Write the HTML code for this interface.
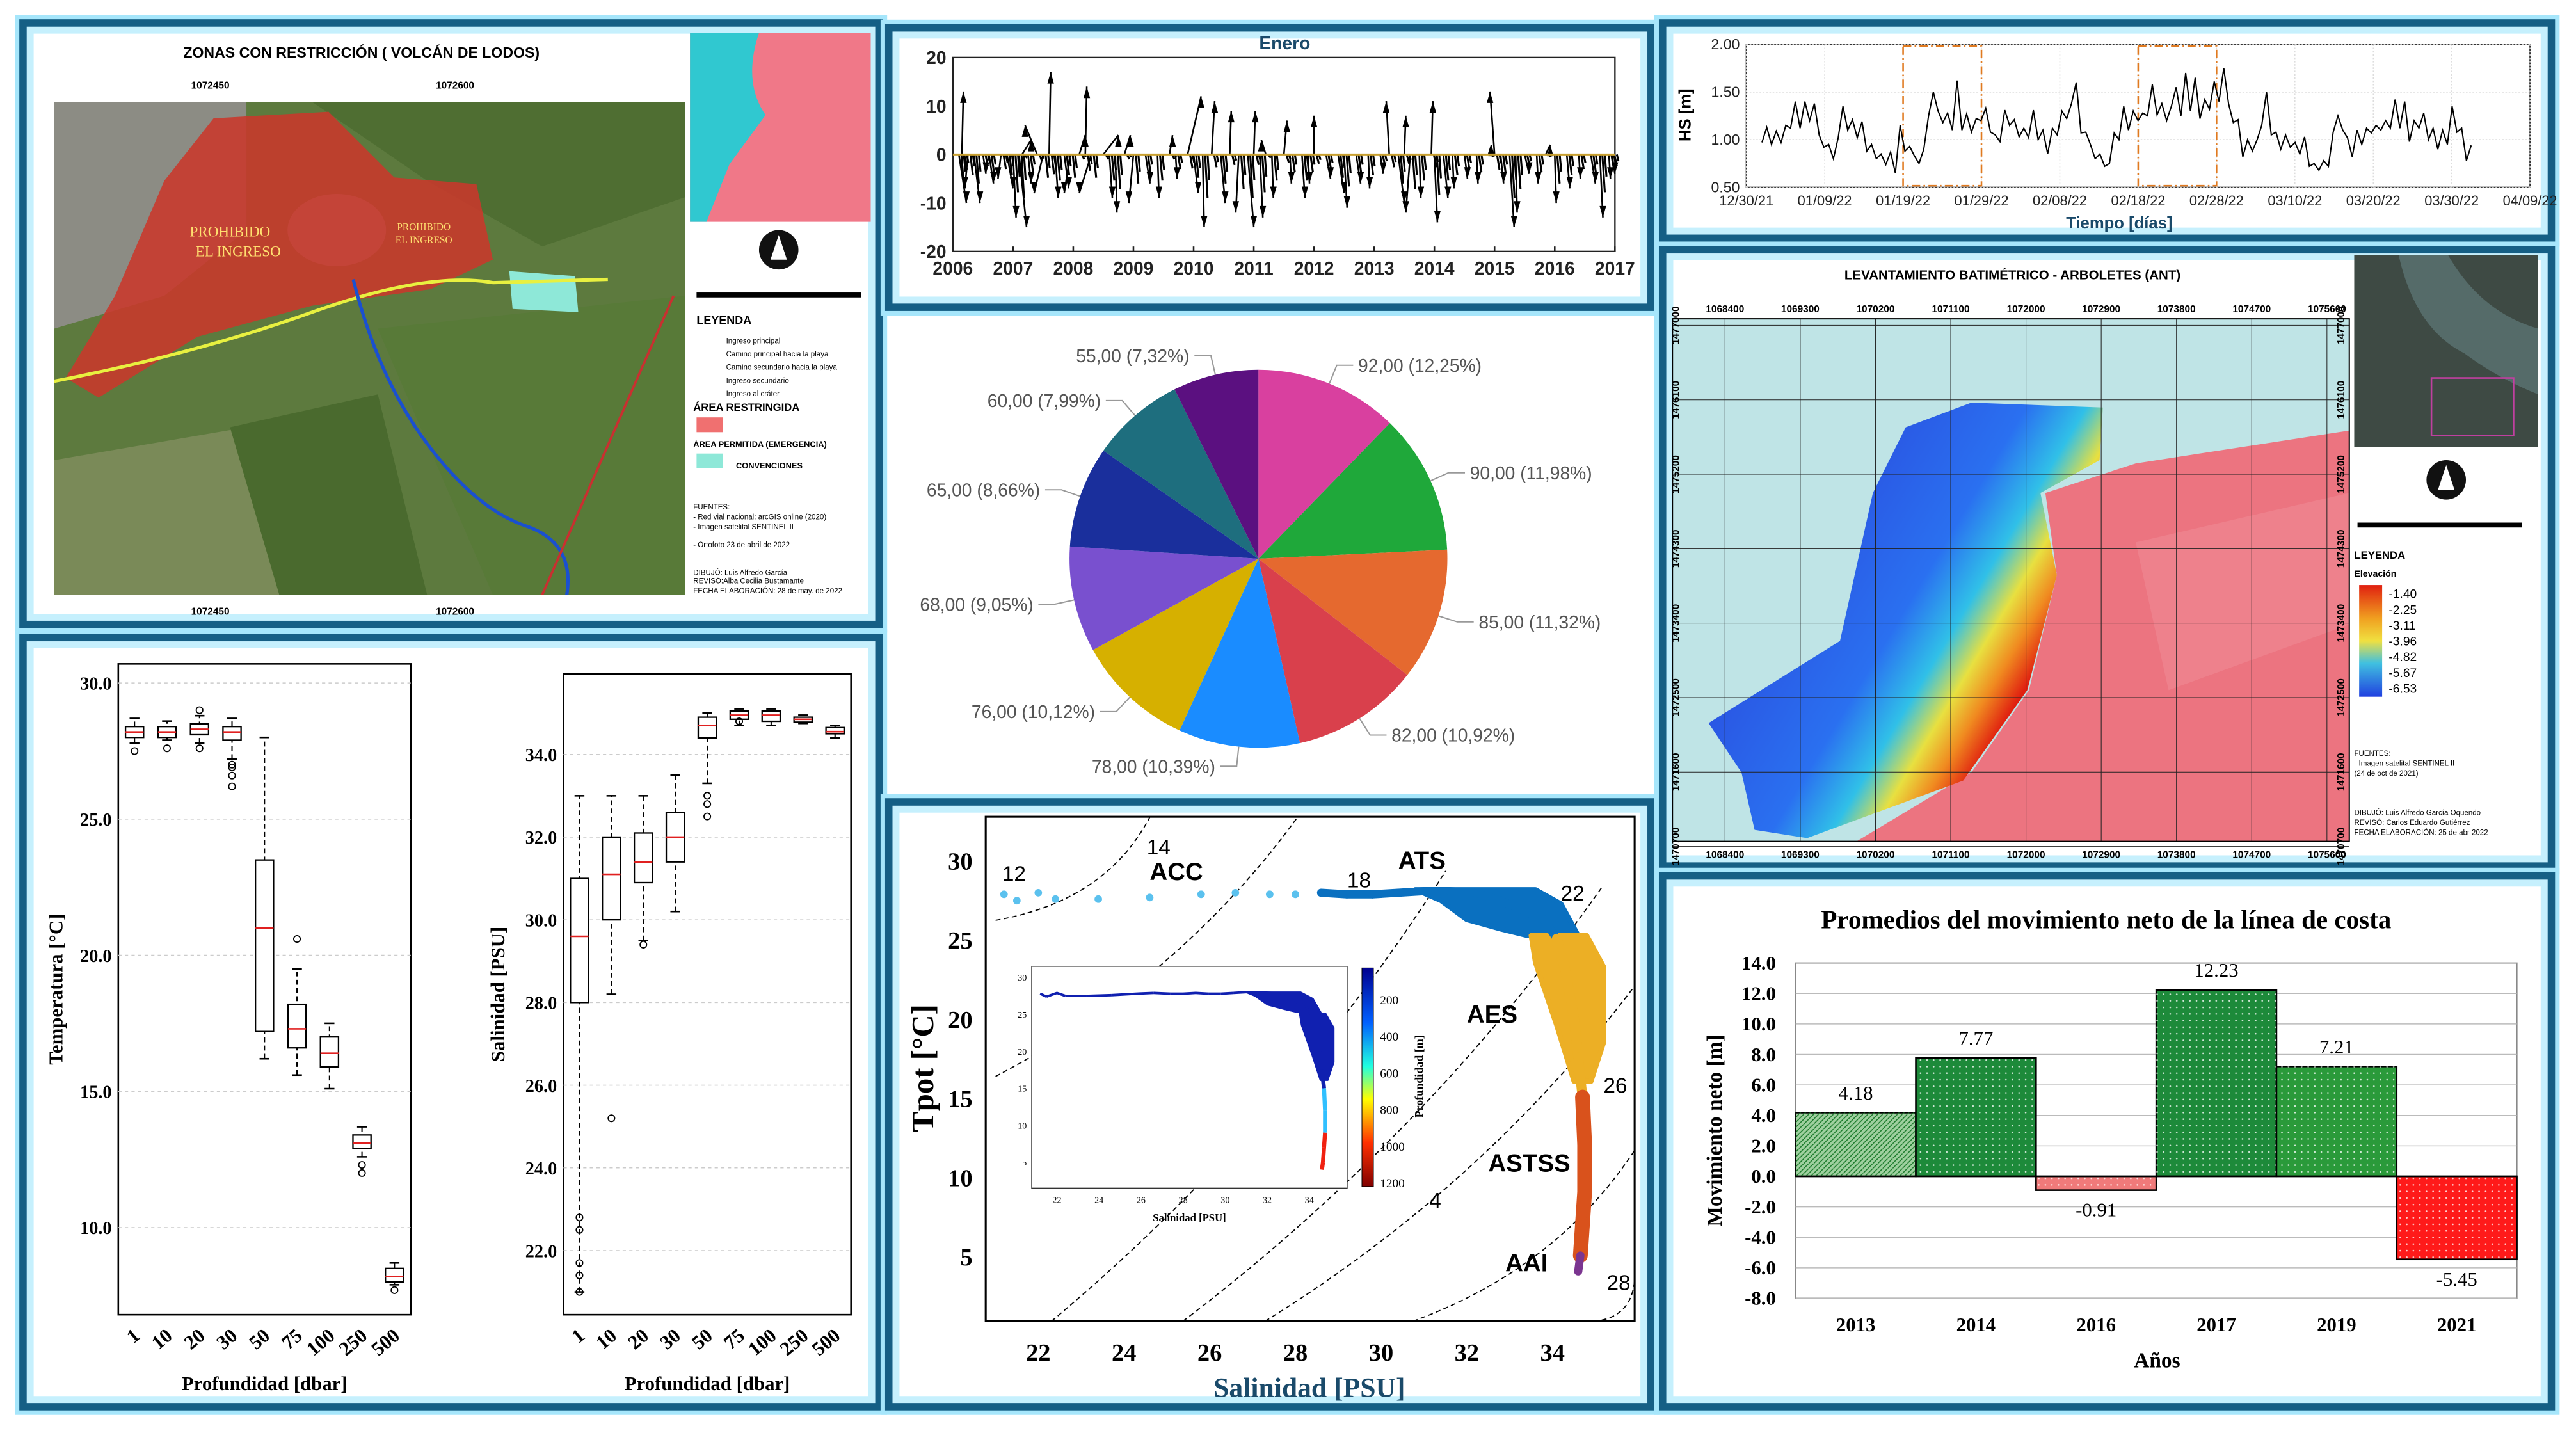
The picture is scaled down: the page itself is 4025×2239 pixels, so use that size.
<!DOCTYPE html>
<html><head><meta charset="utf-8"><style>
html,body{margin:0;padding:0;background:#fff}
svg{display:block}
text{font-family:"Liberation Sans",sans-serif}
.serif{font-family:"Liberation Serif",serif}
</style></head><body>
<svg id="s" xmlns="http://www.w3.org/2000/svg" width="4025" height="2239" viewBox="0 0 1568 872" preserveAspectRatio="none">
<defs>
<linearGradient id="bathy" gradientUnits="userSpaceOnUse" x1="1100" y1="300" x2="1250" y2="390"><stop offset="0" stop-color="#2a50e0"/><stop offset=".5" stop-color="#2a70f0"/><stop offset=".68" stop-color="#30c0e8"/><stop offset=".8" stop-color="#e8e040"/><stop offset=".9" stop-color="#f08a20"/><stop offset="1" stop-color="#e02010"/></linearGradient>
<linearGradient id="cbar" x1="0" y1="0" x2="0" y2="1"><stop offset="0" stop-color="#00008f"/><stop offset=".25" stop-color="#0060ff"/><stop offset=".45" stop-color="#20ffe0"/><stop offset=".6" stop-color="#ffff00"/><stop offset=".8" stop-color="#ff3000"/><stop offset="1" stop-color="#800000"/></linearGradient>
<linearGradient id="lcb" x1="0" y1="0" x2="0" y2="1"><stop offset="0" stop-color="#e02010"/><stop offset=".3" stop-color="#f0a020"/><stop offset=".5" stop-color="#f0e040"/><stop offset=".7" stop-color="#40c0e0"/><stop offset="1" stop-color="#2040e0"/></linearGradient>
<pattern id="dots" width="4" height="4" patternUnits="userSpaceOnUse"><circle cx="1" cy="1" r=".5" fill="#fff" opacity=".8"/></pattern>
<pattern id="hatch" width="3" height="3" patternUnits="userSpaceOnUse"><path d="M0 3L3 0" stroke="#1a7a2a" stroke-width=".6"/></pattern>
</defs>
<g id="frames"></g>
<g id="map1">
<text x="220" y="35" font-size="9" font-weight="bold" text-anchor="middle">ZONAS CON RESTRICCIÓN ( VOLCÁN DE LODOS)</text>
<rect x="33" y="62" width="384" height="300" fill="#5d7a3e"/>
<path d="M33 62H150V140L100 180L33 200Z" fill="#8c8c84"/>
<path d="M190 62H417V120L330 150L260 110Z" fill="#4f6e32"/>
<path d="M230 200L417 180V362H300Z" fill="#587a38"/>
<path d="M33 280L150 260L200 362H33Z" fill="#7a8a58"/>
<path d="M140 260L230 240L260 362H170Z" fill="#4a6a2e"/>
<ellipse cx="205" cy="140" rx="30" ry="22" fill="#9a9a94"/>
<path d="M40 230L70 180L100 110L130 72L200 68L240 108L290 112L300 158L262 176L190 186L120 205L60 242Z" fill="#c9382b" opacity=".88"/>
<path d="M310 165L350 168L352 190L312 188Z" fill="#8ee8d8"/>
<path d="M33 232Q120 215 190 190T300 172L370 170" stroke="#e8f040" stroke-width="2" fill="none"/>
<path d="M215 170Q230 230 260 270T320 320T345 362" stroke="#1a50d0" stroke-width="2" fill="none"/>
<path d="M330 362L410 180" stroke="#c83030" stroke-width="1.5"/>
<text x="140" y="144" class="serif" font-size="9" fill="#ffe070" text-anchor="middle">PROHIBIDO</text>
<text x="145" y="156" class="serif" font-size="9" fill="#ffe070" text-anchor="middle">EL INGRESO</text>
<text x="258" y="140" class="serif" font-size="6" fill="#ffe070" text-anchor="middle">PROHIBIDO</text>
<text x="258" y="148" class="serif" font-size="6" fill="#ffe070" text-anchor="middle">EL INGRESO</text>
<text x="128" y="54" font-size="6" font-weight="bold" text-anchor="middle">1072450</text>
<text x="277" y="54" font-size="6" font-weight="bold" text-anchor="middle">1072600</text>
<text x="128" y="374" font-size="6" font-weight="bold" text-anchor="middle">1072450</text>
<text x="277" y="374" font-size="6" font-weight="bold" text-anchor="middle">1072600</text>
<rect x="420" y="20" width="110" height="115" fill="#f07888"/>
<path d="M420 20H462Q452 50 466 70L444 100L430 135H420Z" fill="#30c8d0"/>
<circle cx="474" cy="152" r="12" fill="#111"/><path d="M474 143L479 158H469Z" fill="#fff"/>
<rect x="424" y="178" width="100" height="3" fill="#000"/>
<text x="424" y="197" font-size="7" font-weight="bold">LEYENDA</text>
<g font-size="4.5"><text x="442" y="209">Ingreso principal</text><text x="442" y="217">Camino principal hacia la playa</text><text x="442" y="225">Camino secundario hacia la playa</text><text x="442" y="233">Ingreso secundario</text><text x="442" y="241">Ingreso al cráter</text></g>
<text x="422" y="250" font-size="6.5" font-weight="bold">ÁREA RESTRINGIDA</text>
<rect x="424" y="254" width="16" height="9" fill="#f07070"/>
<text x="422" y="272" font-size="5" font-weight="bold">ÁREA PERMITIDA (EMERGENCIA)</text>
<rect x="424" y="276" width="16" height="9" fill="#8ee8d8"/>
<text x="448" y="285" font-size="5" font-weight="bold">CONVENCIONES</text>
<g font-size="4.5"><text x="422" y="310">FUENTES:</text><text x="422" y="316">- Red vial nacional: arcGIS online (2020)</text><text x="422" y="322">- Imagen satelital SENTINEL II</text><text x="422" y="333">- Ortofoto 23 de abril de 2022</text><text x="422" y="350">DIBUJÓ: Luis Alfredo García</text><text x="422" y="355">REVISÓ:Alba Cecilia Bustamante</text><text x="422" y="361">FECHA ELABORACIÓN: 28 de may. de 2022</text></g>
</g>
<g id="vec"></g>
<g id="pie"></g>
<g id="ts"></g>
<g id="hs"></g>
<g id="bathy-map">
<text x="1225" y="170" font-size="8" font-weight="bold" text-anchor="middle">LEVANTAMIENTO BATIMÉTRICO - ARBOLETES (ANT)</text>
<rect x="1018" y="194" width="412" height="318" fill="#bfe4e6"/>
<path d="M1245 300L1300 282L1430 262V512H1130L1200 470L1235 420L1252 350Z" fill="#ec7480"/>
<path d="M1300 330L1430 300V380L1320 420Z" fill="#f08a94" opacity=".6"/>
<path d="M1040 440L1120 390L1140 300L1160 260L1200 245L1280 248L1278 280L1242 300L1252 350L1234 420L1195 475L1100 510L1068 505L1060 470Z" fill="url(#bathy)"/>
<g id="bgrid"></g>
<rect x="1433" y="155" width="112" height="117" fill="#3e4a44"/>
<path d="M1460 155Q1470 200 1500 215Q1520 230 1545 240V200Q1510 190 1490 155Z" fill="#8ab8c0" opacity=".3"/>
<path d="M1480 230H1530V265H1480Z" fill="none" stroke="#c040a0" stroke-width="1"/>
<circle cx="1489" cy="292" r="12" fill="#111"/><path d="M1489 283L1494 298H1484Z" fill="#fff"/>
<rect x="1435" y="318" width="100" height="3" fill="#000"/>
<text x="1433" y="340" font-size="6.5" font-weight="bold">LEYENDA</text>
<text x="1433" y="351" font-size="5.5" font-weight="bold">Elevación</text>
<rect x="1436" y="356" width="14" height="68" fill="url(#lcb)"/>
<g font-size="7" id="lcbt"></g>
<g font-size="4.5"><text x="1433" y="460">FUENTES:</text><text x="1433" y="466">- Imagen satelital SENTINEL II</text><text x="1433" y="472">(24 de oct de 2021)</text><text x="1433" y="496">DIBUJÓ: Luis Alfredo García Oquendo</text><text x="1433" y="502">REVISÓ: Carlos Eduardo Gutiérrez</text><text x="1433" y="508">FECHA ELABORACIÓN: 25 de abr 2022</text></g>
</g>
<g id="box"></g>
<g id="bar"></g>
</svg>
<script>
// ---------- data ----------
const barYears=["2013","2014","2016","2017","2019","2021"];
const barValues=[4.18,7.77,-0.91,12.23,7.21,-5.45];
const barColors=["#9fd09f","#1d8a3a","#f07a7a","#1d8a3a","#2a9a3a","#ff1a1a"];
const barTicks=[14,12,10,8,6,4,2,0,-2,-4,-6,-8];

const pieValues=[92,90,85,82,78,76,68,65,60,55];
const pieLabels=["92,00 (12,25%)","90,00 (11,98%)","85,00 (11,32%)","82,00 (10,92%)","78,00 (10,39%)","76,00 (10,12%)","68,00 (9,05%)","65,00 (8,66%)","60,00 (7,99%)","55,00 (7,32%)"];
const pieColors=["#d9409f","#1fa83a","#e5692f","#d9404c","#1a8cff","#d6b000","#7950cf","#1a2f9c","#1e6e7e","#5b1080"];

const depthCats=["1","10","20","30","50","75","100","250","500"];
// [q1, median, q3, whiskerLow, whiskerHigh]
const tempBoxes=[[28.0,28.2,28.4,27.8,28.7],[28.0,28.2,28.4,27.9,28.6],[28.1,28.3,28.5,27.8,28.8],[27.9,28.2,28.4,27.2,28.7],[17.2,21.0,23.5,16.2,28.0],[16.6,17.3,18.2,15.6,19.5],[15.9,16.4,17.0,15.1,17.5],[12.9,13.1,13.4,12.6,13.7],[8.0,8.2,8.5,7.9,8.7]];
const tempOutliers=[[0,27.5],[1,27.6],[2,27.6],[2,29.0],[3,26.2],[3,26.6],[3,26.9],[3,27.0],[5,20.6],[7,12.3],[7,12.0],[8,7.7]];
const salBoxes=[[28.0,29.6,31.0,21.0,33.0],[30.0,31.1,32.0,28.2,33.0],[30.9,31.4,32.1,29.5,33.0],[31.4,32.0,32.6,30.2,33.5],[34.4,34.7,34.9,33.3,35.0],[34.85,34.95,35.05,34.7,35.1],[34.8,34.95,35.05,34.7,35.1],[34.78,34.85,34.9,34.75,34.95],[34.5,34.55,34.65,34.4,34.7]];
const salOutliers=[[0,22.8],[0,22.5],[0,21.7],[0,21.4],[0,21.0],[1,25.2],[2,29.4],[4,32.5],[4,32.8],[4,33.0],[5,34.8]];
const tempTicks=[30,25,20,15,10];
const salTicks=[34,32,30,28,26,24,22];

const hsValues=[0.97,1.13,0.95,1.09,0.97,1.15,1.12,1.40,1.12,1.40,1.20,1.38,1.05,0.92,0.95,0.80,1.02,1.35,1.10,1.21,1.02,1.19,0.88,0.95,0.80,0.85,0.74,0.87,0.65,1.15,0.88,0.93,0.83,0.75,0.90,1.25,1.50,1.30,1.18,1.28,1.10,1.62,1.10,1.27,1.08,1.22,1.20,1.33,1.08,1.05,0.98,1.31,1.15,1.21,1.03,1.12,1.02,1.31,1.00,1.10,0.85,1.12,1.05,1.30,1.22,1.38,1.60,1.07,1.08,0.95,0.80,0.85,0.72,0.75,1.07,1.00,1.35,1.10,1.30,1.20,1.28,1.25,1.58,1.26,1.38,1.20,1.35,1.55,1.25,1.70,1.30,1.65,1.22,1.42,1.32,1.61,1.40,1.75,1.38,1.18,1.21,0.82,1.00,0.88,1.00,1.15,1.50,1.05,1.08,0.90,1.05,0.92,0.97,0.85,1.03,0.72,0.75,0.68,0.78,0.72,1.08,1.25,1.10,1.02,0.82,1.10,0.95,1.12,1.07,1.15,1.10,1.20,1.12,1.42,1.12,1.40,0.98,1.20,1.12,1.28,1.00,1.12,0.90,1.10,0.95,1.35,1.08,1.12,0.78,0.94];
const hsTicks=["12/30/21","01/09/22","01/19/22","01/29/22","02/08/22","02/18/22","02/28/22","03/10/22","03/20/22","03/30/22","04/09/22"];
const hsWindows=[[20,30],[50,60]];

const vecYears=["2006","2007","2008","2009","2010","2011","2012","2013","2014","2015","2016","2017"];
// [time (yr), u, v]
const vecData=[[2006.1,0.5,-10],[2006.15,0.1,13],[2006.25,-0.2,-7],[2006.35,0.4,-10],[2006.5,0.2,-4],[2006.6,0.3,-6],[2006.8,-0.2,-5],[2006.9,0.4,-7],[2007.0,0.2,-13],[2007.1,0.5,-15],[2007.15,0.6,3],[2007.25,0.2,-6],[2007.4,-0.8,6],[2007.5,-0.6,-8],[2007.6,0.1,17],[2007.7,0.2,-9],[2007.85,0.3,-7],[2007.95,-0.4,-8],[2008.1,0.4,4],[2008.2,0.1,14],[2008.3,-0.8,-8],[2008.5,1.0,4],[2008.6,0.2,-9],[2008.7,0.1,-12],[2008.85,0.4,4],[2009.0,-0.3,-10],[2009.2,0.3,-6],[2009.4,0.1,-9],[2009.6,0.2,4],[2009.7,0.1,-5],[2009.9,0.9,12],[2010.0,0.3,-8],[2010.15,0.1,-15],[2010.3,0.2,11],[2010.45,0.3,-10],[2010.6,0.1,9],[2010.75,-0.2,-12],[2010.9,0.4,-15],[2011.0,0.1,9],[2011.1,0.2,-13],[2011.2,-0.3,3],[2011.3,0.1,-9],[2011.5,0.2,7],[2011.6,0.1,-6],[2011.8,0.2,-9],[2011.9,0.1,-6],[2012.0,0.0,8],[2012.2,0.3,-5],[2012.4,0.4,-8],[2012.5,0.2,-11],[2012.7,0.3,-6],[2012.9,0.1,-7],[2013.1,0.2,-4],[2013.25,-0.2,11],[2013.4,0.4,-10],[2013.5,0.1,8],[2013.6,-0.3,-12],[2013.75,0.1,-9],[2013.95,0.1,11],[2014.0,0.2,-14],[2014.15,0.3,-9],[2014.3,0.1,-7],[2014.5,0.2,-5],[2014.7,0.1,-6],[2014.9,0.2,2],[2015.0,-0.3,13],[2015.1,0.2,-6],[2015.25,0.3,-15],[2015.35,0.1,-12],[2015.5,0.3,-4],[2015.7,0.1,-6],[2015.85,0.3,2],[2016.0,0.1,-10],[2016.2,0.2,-7],[2016.4,0.1,-5],[2016.6,0.3,-6],[2016.75,0.2,-13],[2016.9,0.1,-5],[2016.95,0.2,-4]];

const tsS=[21.2,21.5,22.0,22.4,23.4,24.6,25.8,26.6,27.4,28.0,28.6,29.2,29.8,30.4,31.0,31.6,32.2,32.8,33.3,33.8,34.1,34.3,34.5,34.6,34.7,34.75,34.75,34.7,34.65,34.6];
const tsT=[27.8,27.4,27.9,27.5,27.5,27.6,27.8,27.9,27.8,27.8,27.9,27.8,27.8,27.9,28.0,28.0,27.9,27.4,26.8,26.2,25.0,23.0,20.0,17.5,15.0,12.0,9.0,7.0,5.0,4.0];
// scatter-cloud outlines (salinity, temperature)
const cloudBlueS=[30.8,33.6,34.2,34.6,33.4,32.8,32.0,31.4];
const cloudBlueT=[28.1,28.1,27.2,25.2,25.2,25.6,26.2,27.4];
const cloudAesS=[33.5,34.8,35.2,35.2,34.9,34.5,34.1,33.6];
const cloudAesT=[25.2,25.2,23.2,18.5,16.0,16.0,19.5,23.5];
const tsTicksS=[22,24,26,28,30,32,34];
const tsTicksT=[30,25,20,15,10,5];
const waterMasses=[["ACC",24.6,28.7],["ATS",30.4,29.4],["AES",32.0,19.7],["ASTSS",32.5,10.3],["AAI",32.9,4.0]];
const bathyLabels=["-1.40","-2.25","-3.11","-3.96","-4.82","-5.67","-6.53"];

// ---------- helpers ----------
const NS="http://www.w3.org/2000/svg";
function mk(parent,tag,attrs,txt){const e=document.createElementNS(NS,tag);for(const k in attrs)e.setAttribute(k,attrs[k]);if(txt!==undefined)e.textContent=txt;parent.appendChild(e);return e;}
const G=id=>document.getElementById(id);

// ---------- frames ----------
const frames=[[14,14,521,366,"map-panel"],[14,388,521,468,"boxplot-frame"],[541,17,464,170,"vector-frame"],[541,488,464,368,"ts-frame"],[1012,14,541,131,"hs-frame"],[1012,152,541,375,"bathymetry-frame"],[1012,533,541,323,"bar-frame"]];
frames.forEach(f=>{
 const g=G("frames");
 const a=mk(g,"rect",{x:f[0],y:f[1],width:f[2],height:f[3],fill:"#fff",stroke:"#a6e6fb","stroke-width":10});
 
 
 mk(g,"rect",{x:f[0]+4,y:f[1]+4,width:f[2]-8,height:f[3]-8,fill:"none",stroke:"#c6f0fd","stroke-width":5});
 const b=mk(g,"rect",{x:f[0],y:f[1],width:f[2],height:f[3],fill:"none",stroke:"#155f85","stroke-width":4.5});
 
 
});

// ---------- bar chart ----------
(function(){
 const g=G("bar");
 const X0=1093,X1=1532,Y0=586,Y1=790,vmin=-8,vmax=14;
 const y=v=>Y0+(vmax-v)*(Y1-Y0)/(vmax-vmin);
 const bw=(X1-X0)/barYears.length;
 mk(g,"text",{x:1282,y:565,"font-size":16,"font-weight":"bold","text-anchor":"middle",class:"serif"},"Promedios del movimiento neto de la línea de costa");
 mk(g,"rect",{x:X0,y:Y0,width:X1-X0,height:Y1-Y0,fill:"#fff",stroke:"#888","stroke-width":.8});
 barTicks.forEach(t=>{
  mk(g,"line",{x1:X0,x2:X1,y1:y(t),y2:y(t),stroke:"#bbb","stroke-width":.6});
  const tx=mk(g,"text",{x:X0-12,y:y(t)+4,"font-size":12,"font-weight":"bold","text-anchor":"end",class:"serif"},t.toFixed(1));
  
  
 });
 barValues.forEach((v,i)=>{
  const x=X0+i*bw,top=Math.min(y(v),y(0)),h=Math.abs(y(v)-y(0));
  const r=mk(g,"rect",{x:x,y:top,width:bw,height:h,fill:barColors[i],stroke:"#000","stroke-width":1});
  
  
  mk(g,"rect",{x:x,y:top,width:bw,height:h,fill:i==0?"url(#hatch)":"url(#dots)"});
  const ly=v>=0?y(v)-8:y(v)+16;
  const l=mk(g,"text",{x:x+bw/2,y:ly,"font-size":12,"text-anchor":"middle",class:"serif"},v.toFixed(2));
  
  
  const xl=mk(g,"text",{x:x+bw/2,y:810,"font-size":12,"font-weight":"bold","text-anchor":"middle",class:"serif"},barYears[i]);
  
  
 });
 mk(g,"line",{x1:X0,x2:X1,y1:y(0),y2:y(0),stroke:"#000","stroke-width":1});
 mk(g,"text",{x:1313,y:832,"font-size":13,"font-weight":"bold","text-anchor":"middle",class:"serif"},"Años");
 const yt=mk(g,"text",{x:1048,y:688,"font-size":13,"font-weight":"bold","text-anchor":"middle",class:"serif",transform:"rotate(-90 1048 688)"},"Movimiento neto [m]");
 
 
})();

// ---------- pie ----------
(function(){
 const g=G("pie");const cx=766,cy=340,R=115;
 const tot=pieValues.reduce((a,b)=>a+b,0);let a0=-Math.PI/2;
 pieValues.forEach((v,i)=>{
  const a1=a0+v/tot*2*Math.PI;
  const p=[cx+R*Math.cos(a0),cy+R*Math.sin(a0),cx+R*Math.cos(a1),cy+R*Math.sin(a1)];
  const s=mk(g,"path",{d:`M${cx} ${cy}L${p[0]} ${p[1]}A${R} ${R} 0 0 1 ${p[2]} ${p[3]}Z`,fill:pieColors[i]});
  
  
  const am=(a0+a1)/2,c=Math.cos(am),sn=Math.sin(am);
  const ex=cx+(R+12)*c,ey=cy+(R+12)*sn,hx=ex+(c>0?10:-10);
  mk(g,"path",{d:`M${cx+R*c} ${cy+R*sn}L${ex} ${ey}L${hx} ${ey}`,stroke:"#999",fill:"none","stroke-width":.8});
  const t=mk(g,"text",{x:hx+(c>0?3:-3),y:ey+4,"font-size":11,fill:"#555","text-anchor":c>0?"start":"end"},pieLabels[i]);
  
  
  a0=a1;
 });
})();

// ---------- boxplots ----------
function boxPanel(g,boxes,outl,ticks,X0,X1,Y0,Y1,vTop,vBot,fmt,ylabel,lx){
 const y=v=>Y0+(vTop-v)*(Y1-Y0)/(vTop-vBot);
 mk(g,"rect",{x:X0,y:Y0,width:X1-X0,height:Y1-Y0,fill:"#fff",stroke:"#000","stroke-width":1});
 ticks.forEach(t=>{
  mk(g,"line",{x1:X0,x2:X1,y1:y(t),y2:y(t),stroke:"#ccc","stroke-dasharray":"2 2","stroke-width":.6});
  const tx=mk(g,"text",{x:X0-4,y:y(t)+4,"font-size":11,"font-weight":"bold","text-anchor":"end",class:"serif"},t.toFixed(1));
  
  
 });
 const step=(X1-X0)/depthCats.length;
 boxes.forEach((b,i)=>{
  const x=X0+step*(i+.5),w=11;
  mk(g,"line",{x1:x,x2:x,y1:y(b[3]),y2:y(b[4]),stroke:"#000","stroke-dasharray":"3 2","stroke-width":.8});
  mk(g,"line",{x1:x-3,x2:x+3,y1:y(b[3]),y2:y(b[3]),stroke:"#000"});
  mk(g,"line",{x1:x-3,x2:x+3,y1:y(b[4]),y2:y(b[4]),stroke:"#000"});
  const r=mk(g,"rect",{x:x-w/2,y:y(b[2]),width:w,height:Math.max(1,y(b[0])-y(b[2])),fill:"#fff",stroke:"#000","stroke-width":.9});
  
  
  mk(g,"line",{x1:x-w/2,x2:x+w/2,y1:y(b[1]),y2:y(b[1]),stroke:"#e02020","stroke-width":1});
  const tl=mk(g,"text",{x:x+4,y:Y1+14,"font-size":12,"font-weight":"bold",class:"serif","text-anchor":"end",transform:`rotate(-40 ${x+4} ${Y1+14})`},depthCats[i]);
  
  
 });
 outl.forEach(o=>{const x=X0+step*(o[0]+.5);mk(g,"circle",{cx:x,cy:y(o[1]),r:2,fill:"none",stroke:"#000","stroke-width":.7});});
 mk(g,"text",{x:(X0+X1)/2,y:846,"font-size":12,"font-weight":"bold","text-anchor":"middle",class:"serif"},"Profundidad [dbar]");
 const yt=mk(g,"text",{x:lx,y:(Y0+Y1)/2,"font-size":12,"font-weight":"bold","text-anchor":"middle",class:"serif",transform:`rotate(-90 ${lx} ${(Y0+Y1)/2})`},ylabel);
 
 
}
boxPanel(G("box"),tempBoxes,tempOutliers,tempTicks,72,250,404,800,30.7,6.8,1,"Temperatura [°C]",38);
boxPanel(G("box"),salBoxes,salOutliers,salTicks,343,518,410,800,35.95,20.45,1,"Salinidad [PSU]",307);

// ---------- HS line ----------
(function(){
 const g=G("hs");const X0=1063,X1=1540,Y0=27,Y1=114;
 const x=d=>X0+d*(X1-X0)/100,y=v=>Y0+(2-v)*(Y1-Y0)/1.5;
 mk(g,"rect",{x:X0,y:Y0,width:X1-X0,height:Y1-Y0,fill:"#fff",stroke:"#333","stroke-width":.8});
 [0.5,1,1.5,2].forEach(t=>{
  mk(g,"line",{x1:X0,x2:X1,y1:y(t),y2:y(t),stroke:"#ccc","stroke-dasharray":"1 1","stroke-width":.6});
  const tx=mk(g,"text",{x:X0-4,y:y(t)+3,"font-size":9,"text-anchor":"end",fill:"#222"},t.toFixed(2));
  
  
 });
 hsTicks.forEach((t,i)=>{
  mk(g,"line",{x1:x(i*10),x2:x(i*10),y1:Y0,y2:Y1,stroke:"#ddd","stroke-dasharray":"1 1","stroke-width":.6});
  const tx=mk(g,"text",{x:x(i*10),y:Y1+11,"font-size":8.5,"text-anchor":"middle",fill:"#222"},t);
  
  
 });
 hsWindows.forEach(w=>{
  const r=mk(g,"rect",{x:x(w[0]),y:Y0+1,width:x(w[1])-x(w[0]),height:Y1-Y0-2,fill:"none",stroke:"#e07a20","stroke-dasharray":"5 2 1 2","stroke-width":1});
  
  
 });
 const n=hsValues.length,step=90.5/(n-1);
 const d=hsValues.map((v,i)=>(i?"L":"M")+x(2+i*step).toFixed(1)+" "+y(v).toFixed(1)).join("");
 const p=mk(g,"path",{d:d,fill:"none",stroke:"#000","stroke-width":.8});
 
 
 mk(g,"text",{x:1290,y:139,"font-size":10,"font-weight":"bold","text-anchor":"middle",fill:"#1a4a6a"},"Tiempo [días]");
 mk(g,"text",{x:1029,y:70,"font-size":10,"font-weight":"bold","text-anchor":"middle",transform:"rotate(-90 1029 70)"},"HS [m]");
})();

// ---------- vector plot ----------
(function(){
 const g=G("vec");const X0=580,X1=983,Y0=35,Y1=153;
 const x=t=>X0+(t-2006)*(X1-X0)/11,y=v=>Y0+(20-v)*(Y1-Y0)/40;
 mk(g,"text",{x:782,y:30,"font-size":11,"font-weight":"bold","text-anchor":"middle",fill:"#1a4a6a"},"Enero");
 mk(g,"rect",{x:X0,y:Y0,width:X1-X0,height:Y1-Y0,fill:"#fff",stroke:"#222","stroke-width":.9});
 [20,10,0,-10,-20].forEach(t=>{
  const tx=mk(g,"text",{x:X0-4,y:y(t)+4,"font-size":11,"font-weight":"bold","text-anchor":"end",fill:"#222"},t);
  
  
 });
 vecYears.forEach((yr,i)=>{
  mk(g,"line",{x1:x(2006+i),x2:x(2006+i),y1:Y1,y2:Y1-3,stroke:"#222"});
  const tx=mk(g,"text",{x:x(2006+i),y:Y1+14,"font-size":11,"font-weight":"bold","text-anchor":"middle",fill:"#222"},yr);
  
  
 });
 const dense=mk(g,"g",{});
 vecData.forEach(d=>{
  const x0=x(d[0]),x1=x(d[0]+d[1]*0.25),y1=y(d[2]),y0=y(0);
  const l=mk(dense,"line",{x1:x0,y1:y0,x2:x1,y2:y1,stroke:"#000","stroke-width":1});
  
  
  const dir=Math.sign(d[2])||1;
  mk(dense,"path",{d:`M${x1} ${y1}L${x1-2} ${y1+dir*7}L${x1+2} ${y1+dir*7}Z`,fill:"#000"});
  const c=d[2]<0?d[2]:-d[2]*0.4;
  mk(dense,"line",{x1:x0+1.5,y1:y0,x2:x0+3,y2:y(c*0.6),stroke:"#000","stroke-width":1.2});
  mk(dense,"line",{x1:x0+3,y1:y0,x2:x0+4,y2:y(c*0.35),stroke:"#000","stroke-width":1.2});
 });
 mk(g,"line",{x1:X0,x2:X1,y1:y(0),y2:y(0),stroke:"#c9a030","stroke-width":1.2});
})();

// ---------- TS ----------
(function(){
 const g=G("ts");const X0=600,X1=995,Y0=497,Y1=804;
 const x=s=>632+(s-22)*(945-632)/12,y=t=>523+(30-t)*(764-523)/25;
 mk(g,"rect",{x:X0,y:Y0,width:X1-X0,height:Y1-Y0,fill:"#fff",stroke:"#000","stroke-width":1.2});
 [[606,560,700,497],[606,655,790,497],[640,804,880,530],[720,804,975,540],[770,804,995,600],[860,804,995,700],[960,804,995,770]].forEach(c=>{
  mk(g,"path",{d:`M${c[0]} ${c[1]}Q${(c[0]+c[2])/2+20} ${(c[1]+c[3])/2+20} ${c[2]} ${c[3]}`,fill:"none",stroke:"#000","stroke-dasharray":"3 2","stroke-width":.7});
 });
 tsTicksS.forEach(s=>{
  const tx=mk(g,"text",{x:x(s),y:828,"font-size":15,"font-weight":"bold","text-anchor":"middle",class:"serif"},s);
  
  
 });
 tsTicksT.forEach(t=>{
  const tx=mk(g,"text",{x:592,y:y(t)+6,"font-size":15,"font-weight":"bold","text-anchor":"end",class:"serif"},t);
  
  
 });
 const cb=mk(g,"polygon",{points:cloudBlueS.map((s,i)=>x(s)+","+y(cloudBlueT[i])).join(" "),fill:"#0a70c0","stroke":"#0a70c0","stroke-width":3,"stroke-linejoin":"round"});
 
 
 const ca=mk(g,"polygon",{points:cloudAesS.map((s,i)=>x(s)+","+y(cloudAesT[i])).join(" "),fill:"#ecaf25","stroke":"#ecaf25","stroke-width":3,"stroke-linejoin":"round"});
 
 
 const col=t=>t>24.8?"#0a70c0":t>16?"#ecaf25":t>5.5?"#d9521c":"#7b3590";
 for(let i=0;i<tsS.length;i++){
  const lightC=tsS[i]<29?"#5bc1ee":col(tsT[i]);
  const c=mk(g,"circle",{cx:x(tsS[i]),cy:y(tsT[i]),r:2.3,fill:lightC});
  
  
  if(i>0&&tsS[i]>29){
   const tm=(tsT[i]+tsT[i-1])/2;
   const w=tm>24?5:tm>16?6:tm>5.5?9:5;
   mk(g,"line",{x1:x(tsS[i-1]),y1:y(tsT[i-1]),x2:x(tsS[i]),y2:y(tsT[i]),stroke:col(tm),"stroke-width":w,"stroke-linecap":"round"});
  }
 }
 waterMasses.forEach(w=>{
  const t=mk(g,"text",{x:x(w[1]),y:y(w[2]),"font-size":15,"font-weight":"bold"},w[0]);
  
  
 });
 [["12",610,536],["14",698,520],["18",820,540],["22",950,548],["26",976,665],["28",978,785],["4",870,735]].forEach(d=>mk(g,"text",{x:d[1],y:d[2],"font-size":13},d[0]));
 mk(g,"text",{x:797,y:850,"font-size":17,"font-weight":"bold","text-anchor":"middle",class:"serif",fill:"#1a4a6a"},"Salinidad [PSU]");
 const yt=mk(g,"text",{x:568,y:650,"font-size":19,"font-weight":"bold","text-anchor":"middle",class:"serif",transform:"rotate(-90 568 650)"},"Tpot [°C]");
 
 
 // inset
 const iX0=628,iX1=820,iY0=588,iY1=723;
 const ix=s=>iX0+(s-20.8)*(iX1-iX0)/15,iy=t=>iY0+(31.5-t)*(iY1-iY0)/30;
 const ins=mk(g,"g",{});
 
 
 mk(ins,"rect",{x:iX0,y:iY0,width:iX1-iX0,height:iY1-iY0,fill:"#fff",stroke:"#333","stroke-width":.6});
 mk(ins,"polygon",{points:cloudBlueS.map((s,i)=>ix(s)+","+iy(cloudBlueT[i])).join(" "),fill:"#1020b0"});
 mk(ins,"polygon",{points:cloudAesS.map((s,i)=>ix(s)+","+iy(cloudAesT[i])).join(" "),fill:"#1020b0"});
 for(let i=1;i<tsS.length;i++){
  const tm=(tsT[i]+tsT[i-1])/2;
  const w=tm>24?1.5:2.5;
  mk(ins,"line",{x1:ix(tsS[i-1]),y1:iy(tsT[i-1]),x2:ix(tsS[i]),y2:iy(tsT[i]),stroke:tsT[i]>12?"#1020b0":tsT[i]>8?"#30c0ff":"#f02010","stroke-width":w});
 }
 [22,24,26,28,30,32,34].forEach(s=>mk(ins,"text",{x:ix(s),y:iY1+9,"font-size":5.5,"text-anchor":"middle",class:"serif"},s));
 [30,25,20,15,10,5].forEach(t=>mk(ins,"text",{x:iX0-3,y:iy(t)+2,"font-size":5.5,"text-anchor":"end",class:"serif"},t));
 mk(ins,"text",{x:724,y:743,"font-size":6.5,"font-weight":"bold","text-anchor":"middle",class:"serif"},"Salinidad [PSU]");
 mk(ins,"rect",{x:829,y:589,width:7,height:133,fill:"url(#cbar)",stroke:"#000","stroke-width":.4});
 [200,400,600,800,1000,1200].forEach((d,i)=>mk(ins,"text",{x:840,y:611+i*22.3,"font-size":7.5,class:"serif"},d));
 mk(ins,"text",{x:866,y:655,"font-size":7,"font-weight":"bold",class:"serif","text-anchor":"middle",transform:"rotate(-90 866 655)"},"Profundidad [m]");
})();

// ---------- bathymetry grid & labels ----------
(function(){
 const g=G("bgrid");
 const xs=["1068400","1069300","1070200","1071100","1072000","1072900","1073800","1074700","1075600"];
 const ys=["1477000","1476100","1475200","1474300","1473400","1472500","1471600","1470700"];
 xs.forEach((t,i)=>{const x=1050+i*45.8;mk(g,"line",{x1:x,x2:x,y1:194,y2:512,stroke:"#222","stroke-width":.4});mk(g,"text",{x:x,y:190,"font-size":6,"font-weight":"bold","text-anchor":"middle"},t);mk(g,"text",{x:x,y:522,"font-size":6,"font-weight":"bold","text-anchor":"middle"},t);});
 ys.forEach((t,i)=>{const y=198+i*45.3;mk(g,"line",{x1:1018,x2:1430,y1:y,y2:y,stroke:"#222","stroke-width":.4});mk(g,"text",{x:1022,y:y,"font-size":6,"font-weight":"bold","text-anchor":"middle",transform:`rotate(-90 1022 ${y})`},t);mk(g,"text",{x:1427,y:y,"font-size":6,"font-weight":"bold","text-anchor":"middle",transform:`rotate(-90 1427 ${y})`},t);});
 mk(g,"rect",{x:1018,y:194,width:412,height:318,fill:"none",stroke:"#000","stroke-width":.8});
 const l=G("lcbt");
 bathyLabels.forEach((t,i)=>mk(l,"text",{x:1454,y:364+i*9.6,"font-size":7.5},t));
})();
</script>
</body></html>
